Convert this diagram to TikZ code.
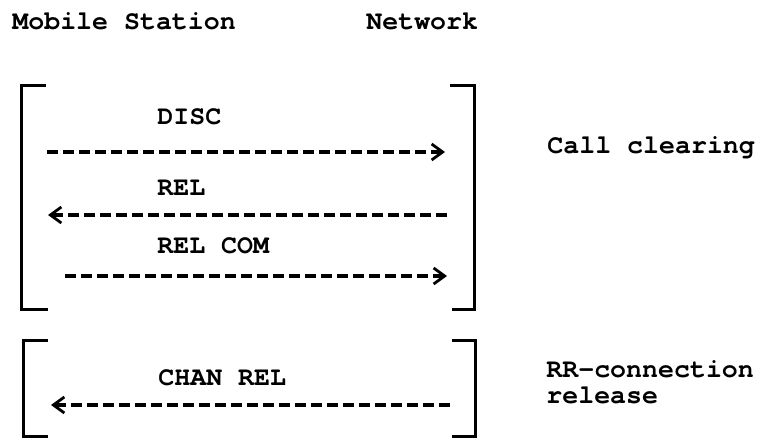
\documentclass[tikz,border=0pt]{standalone}
\usepackage{fontspec}
\newfontfamily\courfont{TeX Gyre Cursor}
\usetikzlibrary{arrows.meta}
\tikzset{
  lbl/.style={inner sep=0pt, anchor=base west, font=\courfont\bfseries\fontsize{13.3}{16}\selectfont},
  msg/.style={line width=1.6pt, dash pattern=on 5.5pt off 2.5pt,
    -{Straight Barb[length=5.5pt,width=8pt,line width=1.4pt]}},
  brk/.style={line width=1.5pt, line join=miter, line cap=butt}
}
\begin{document}
\begin{tikzpicture}[x=0.5pt,y=-0.5pt]
\useasboundingbox (0,0) rectangle (762,439);
% headers
\node[lbl] (ms) at (12,29) {Mobile Station};
\node[lbl] (nw) at (366,29) {Network};
% box 1 brackets
\draw[brk] (46,85) -- (21,85) -- (21,309) -- (48,309);
\draw[brk] (450,85) -- (474,85) -- (474,309) -- (452,309);
% box 2 brackets
\draw[brk] (48,340) -- (23,340) -- (23,436) -- (48,436);
\draw[brk] (452,340) -- (475,340) -- (475,436) -- (452,436);
% labels
\node[lbl] (disc) at (157,125) {DISC};
\node[lbl] (rel) at (157,195) {REL};
\node[lbl] (relcom) at (157,253) {REL COM};
\node[lbl] (chan) at (158,385) {CHAN REL};
\node[lbl] (cc) at (547,153) {Call clearing};
\node[lbl] (rr1) at (546,377) {RR-connection};
\node[lbl] (rr2) at (546,403) {release};
% arrow end points
\coordinate (a1s) at (47,152);  \coordinate (a1e) at (445,152);
\coordinate (a2s) at (447,215); \coordinate (a2e) at (48,215);
\coordinate (a3s) at (65,276);  \coordinate (a3e) at (447,276);
\coordinate (a4s) at (450,405); \coordinate (a4e) at (51,405);
\draw[msg] (a1s) -- (a1e);
\draw[msg] (a2s) -- (a2e);
\draw[msg] (a3s) -- (a3e);
\draw[msg] (a4s) -- (a4e);
\end{tikzpicture}
\end{document}
